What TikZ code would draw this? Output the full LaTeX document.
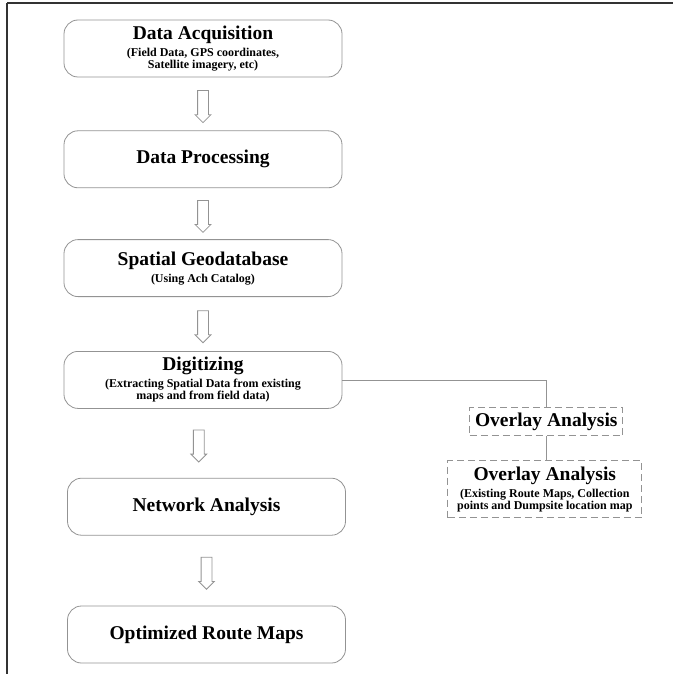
\documentclass[tikz,border=0pt]{standalone}
\usepackage{fontspec}
\setmainfont{Liberation Serif}
\usepackage{tikz}
\usetikzlibrary{positioning, shapes.arrows}

\begin{document}
\begin{tikzpicture}[
        x=1pt, y=-1pt,
        stepbox/.style={draw=gray!85, rounded corners=14pt, line width=0.8pt,
            minimum width=278pt, minimum height=57pt, align=center, inner sep=2pt,
            font=\fontsize{19.5}{22}\selectfont\bfseries},
        overlaybox/.style={draw=gray!85, dash pattern=on 7pt off 4pt, line width=0.8pt,
            align=center, inner sep=1pt, font=\fontsize{19.5}{22}\selectfont\bfseries},
        hollowarrow/.style={single arrow, draw=gray!85, line width=0.8pt, rotate=-90,
            minimum height=32pt, minimum width=15pt, inner xsep=0pt, inner ysep=5pt,
            single arrow head extend=2.5pt},
        link/.style={line width=0.8pt, color=gray!85},
        framestyle/.style={color=gray!40!black},
    ]
    \newcommand{\smalltext}[1]{{\fontsize{12}{13.5}\selectfont\bfseries #1}}
        \useasboundingbox (0,0) rectangle (673,674);

        % Frame
        \draw[framestyle, line width=1.2pt] (7,674) -- (7,3);
        \draw[framestyle, line width=2pt] (7,3) -- (673,3);

        % Main flow
        \node[stepbox] (acq) at (203,48.5)
            {Data Acquisition\\[-5pt]
             \smalltext{(Field Data, GPS coordinates,}\\[-10pt]
             \smalltext{Satellite imagery, etc)}};
        \node[stepbox, below=53pt of acq] (proc) {Data Processing};
        \node[stepbox, below=51pt of proc] (geo)
            {Spatial Geodatabase\\[-5pt]
             \smalltext{(Using Ach Catalog)}};
        \node[stepbox, below=54pt of geo] (dig)
            {Digitizing\\[-5pt]
             \smalltext{(Extracting Spatial Data from existing}\\[-10pt]
             \smalltext{maps and from field data)}};
        \node[stepbox, below=69pt of dig, xshift=3.5pt] (net) {Network Analysis};
        \node[stepbox, below=70pt of net] (opt) {Optimized Route Maps};

        % Overlay branch
        \node[overlaybox, minimum width=153pt, minimum height=28pt,
              below right=27.5pt and 127pt of dig.east] (ovl) {Overlay Analysis};
        \node[overlaybox, minimum width=194pt, minimum height=57pt,
              below=24pt of ovl, xshift=-1.5pt] (ovldetail)
            {Overlay Analysis\\[-5pt]
             \smalltext{(Existing Route Maps, Collection}\\[-10pt]
             \smalltext{points and Dumpsite location map}};

        % Arrows
        \path (acq) -- node[hollowarrow] {} (proc);
        \path (proc) -- node[hollowarrow] {} (geo);
        \path (geo) -- node[hollowarrow] {} (dig);
        \path (dig) -- node[hollowarrow, yshift=-6pt] {} (net);
        \path (net) -- node[hollowarrow] {} (opt);

        % Links
        \draw[link] (dig.east) -| (ovl.north);
        \draw[link] (ovl.south) -- (ovl.south |- ovldetail.north);

    \end{tikzpicture}
\end{document}
